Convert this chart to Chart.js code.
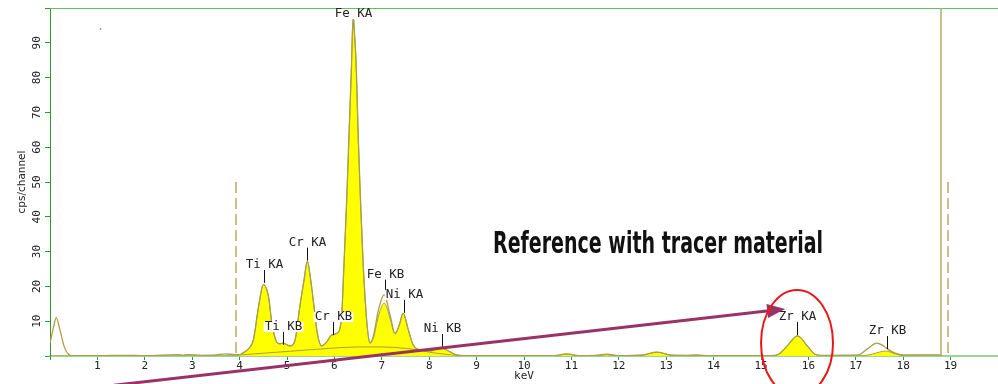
<!DOCTYPE html>
<html>
<head>
<meta charset="utf-8">
<script src="https://cdn.jsdelivr.net/npm/chart.js@4/dist/chart.umd.min.js"></script>
<style>
  html, body { margin: 0; padding: 0; background: #ffffff; }
  #wrap { width: 998px; height: 384px; }
</style>
</head>
<body>
<div id="wrap"><canvas id="spectrum"></canvas></div>
<script>
// energies (keV) and counts
var energyKeV = [
  0.00, 0.07, 0.13, 0.21, 0.30, 0.39, 0.45, 1.00, 1.60, 2.00,
  2.70, 2.80, 2.90, 3.20, 3.50, 3.70, 3.90, 4.00, 4.07, 4.18,
  4.29, 4.40, 4.50, 4.61, 4.68, 4.78, 4.85, 4.92, 4.99, 5.06,
  5.17, 5.27, 5.36, 5.43, 5.50, 5.57, 5.64, 5.73, 5.84, 5.94,
  6.05, 6.15, 6.20, 6.26, 6.31, 6.36, 6.38, 6.40, 6.42, 6.46,
  6.50, 6.55, 6.61, 6.68, 6.75, 6.82, 6.93, 7.05, 7.17, 7.28,
  7.37, 7.45, 7.56, 7.66, 7.77, 7.90, 8.05, 8.23, 8.40, 8.58,
  8.80, 10.60, 10.90, 11.20, 11.50, 11.74, 12.00, 12.50, 12.80, 13.10,
  13.40, 13.64, 13.90, 15.20, 15.37, 15.54, 15.77, 15.99, 16.14, 16.30,
  17.05, 17.26, 17.44, 17.55, 17.65, 17.83, 18.00, 18.50, 18.80
];
// measured spectrum (outline)
var spectrumCps = [
  3.7, 8.0, 11.0, 7.5, 2.7, 0.5, 0.1, 0.1, 0.2, 0.1,
  0.4, 0.2, 0.4, 0.2, 0.3, 0.6, 0.4, 0.4, 0.9, 2.0,
  4.6, 14.2, 20.5, 17.1, 9.5, 4.1, 3.5, 3.7, 3.3, 2.9,
  4.6, 14.2, 21.9, 27.2, 21.9, 14.2, 6.5, 2.9, 4.1, 6.0,
  6.5, 11.0, 25.7, 45.0, 64.2, 83.4, 93.0, 97.3, 93.5, 83.4,
  64.2, 45.0, 25.7, 10.4, 3.7, 5.6, 13.3, 17.6, 12.0, 6.5,
  9.0, 12.3, 7.5, 3.2, 1.9, 1.5, 1.5, 2.5, 1.5, 0.3,
  0.1, 0.1, 0.6, 0.1, 0.2, 0.5, 0.1, 0.3, 1.1, 0.3,
  0.2, 0.3, 0.1, 0.1, 0.5, 2.7, 5.8, 2.7, 0.5, 0.2,
  0.3, 2.2, 3.7, 3.2, 2.2, 0.8, 0.3, 0.3, 0.3
];
// fitted peaks (yellow fill)
var fitCps = [
  0, 0, 0, 0, 0, 0, 0, 0, 0, 0,
  0, 0, 0, 0, 0, 0, 0, 0.3, 0.9, 2.0,
  4.6, 14.2, 20.5, 17.1, 9.5, 4.1, 3.5, 3.7, 3.3, 2.9,
  4.6, 14.2, 21.9, 27.2, 21.9, 14.2, 6.5, 2.9, 4.1, 6.0,
  6.5, 11.0, 25.7, 45.0, 64.2, 83.4, 93.0, 97.3, 93.5, 83.4,
  64.2, 45.0, 25.7, 10.4, 3.7, 5.0, 11.5, 15.2, 11.0, 6.3,
  9.0, 12.3, 7.5, 3.2, 1.9, 1.5, 1.5, 2.5, 1.5, 0.3,
  0, 0, 0.5, 0, 0, 0.4, 0, 0.2, 1.1, 0.2,
  0, 0.2, 0, 0, 0.5, 2.7, 5.8, 2.7, 0.5, 0,
  0, 0.3, 0.9, 1.3, 1.4, 0.6, 0.1, 0, 0
];
// background under the main peaks
var bgKeV = [4.0, 4.5, 5.0, 5.5, 6.0, 6.5, 7.0, 7.5, 7.8, 8.1, 8.4, 8.7];
var bgCps = [0.3, 0.8, 1.3, 1.8, 2.3, 2.6, 2.6, 2.2, 1.6, 0.9, 0.4, 0.0];

var peakNames = ['Ti KA', 'Ti KB', 'Cr KA', 'Cr KB', 'Fe KA', 'Fe KB', 'Ni KA', 'Ni KB', 'Zr KA', 'Zr KB'];
var peakKeV = [4.51, 4.92, 5.42, 5.97, 6.40, 7.07, 7.47, 8.27, 15.76, 17.66];
var peakTopCps = [21.0, 3.2, 27.4, 6.0, 97.3, 18.2, 12.4, 2.6, 6.0, 2.0];

var yTickValues = [10, 20, 30, 40, 50, 60, 70, 80, 90];
var roiKeV = [3.92, 18.95];
var roiTopCps = 50;
var markerKeV = 18.8;

var colors = {
  fill: '#ffff00',
  outline: '#a9a047',
  axisGreen: '#2c9c2c',
  xAxis: '#9fd29f',
  topLine: '#62c262',
  dashed: '#c9be84',
  marker: '#b2aa6a',
  arrow: '#993366',
  circle: '#e81818',
  text: '#222'
};
var monoFont = "'DejaVu Sans Mono', monospace";

function points(xs, ys) {
  return xs.map(function(x, i) { return { x: x, y: ys[i] }; });
}

var overlay = {
  id: 'overlay',
  afterDatasetsDraw: function(chart) {
    var ctx = chart.ctx;
    var xs = chart.scales.x, ys = chart.scales.y;
    var area = chart.chartArea;
    ctx.save();

    // top border
    ctx.strokeStyle = colors.topLine;
    ctx.lineWidth = 1;
    ctx.beginPath();
    ctx.moveTo(area.left, area.top + 0.5);
    ctx.lineTo(area.right, area.top + 0.5);
    ctx.stroke();

    // ROI dashed lines
    ctx.strokeStyle = colors.dashed;
    ctx.lineWidth = 2;
    ctx.setLineDash([11, 5]);
    roiKeV.forEach(function(e) {
      var px = Math.round(xs.getPixelForValue(e));
      ctx.beginPath();
      ctx.moveTo(px, ys.getPixelForValue(roiTopCps));
      ctx.lineTo(px, ys.getPixelForValue(0));
      ctx.stroke();
    });
    ctx.setLineDash([]);

    // marker line
    ctx.strokeStyle = colors.marker;
    ctx.lineWidth = 1.5;
    var mx = Math.round(xs.getPixelForValue(markerKeV));
    ctx.beginPath();
    ctx.moveTo(mx, area.top);
    ctx.lineTo(mx, area.bottom);
    ctx.stroke();

    // stray dot
    ctx.fillStyle = '#777';
    ctx.fillRect(xs.getPixelForValue(1.05), ys.getPixelForValue(94.2), 1.5, 1.5);

    // y tick labels (rotated)
    ctx.fillStyle = colors.text;
    ctx.font = '11px ' + monoFont;
    ctx.textAlign = 'center';
    ctx.textBaseline = 'middle';
    yTickValues.forEach(function(v) {
      ctx.save();
      ctx.translate(37, ys.getPixelForValue(v));
      ctx.rotate(-Math.PI / 2);
      ctx.fillText(String(v), 0, 0);
      ctx.restore();
    });

    // axis titles
    ctx.font = "10.5px 'DejaVu Sans', sans-serif";
    ctx.save();
    ctx.translate(22, 182);
    ctx.rotate(-Math.PI / 2);
    ctx.fillText('cps/channel', 0, 0);
    ctx.restore();
    ctx.font = '11px ' + monoFont;
    ctx.fillText('keV', (area.left + area.right) / 2, 376);

    // peak labels
    ctx.font = '12.5px ' + monoFont;
    peakNames.forEach(function(name, i) {
      var px = Math.round(xs.getPixelForValue(peakKeV[i])) + 0.5;
      var py = ys.getPixelForValue(peakTopCps[i]);
      var ly = py - 18;
      var hasTick = true;
      if (ly < area.top + 6) { ly = area.top + 6; hasTick = false; }
      var w = ctx.measureText(name).width;
      ctx.fillStyle = '#ffffff';
      ctx.fillRect(px - w / 2 - 1, ly - 5, w + 2, 10);
      ctx.fillStyle = colors.text;
      ctx.fillText(name, px, ly);
      if (hasTick) {
        ctx.strokeStyle = '#111';
        ctx.lineWidth = 1;
        ctx.beginPath();
        ctx.moveTo(px, ly + 5);
        ctx.lineTo(px, py);
        ctx.stroke();
      }
    });

    // annotation text
    ctx.fillStyle = '#111';
    ctx.textAlign = 'left';
    ctx.textBaseline = 'alphabetic';
    ctx.font = "bold 31px 'DejaVu Sans Condensed', 'DejaVu Sans', sans-serif";
    ctx.fillText('Reference with tracer material', 493, 253, 330);

    // arrow
    var ax0 = xs.getPixelForValue(1.35), ay0 = ys.getPixelForValue(-8.4);
    var ax1 = xs.getPixelForValue(15.51), ay1 = ys.getPixelForValue(13.5);
    var ang = Math.atan2(ay1 - ay0, ax1 - ax0);
    ctx.strokeStyle = colors.arrow;
    ctx.fillStyle = colors.arrow;
    ctx.lineWidth = 3;
    ctx.beginPath();
    ctx.moveTo(ax0, ay0);
    ctx.lineTo(ax1 - 14 * Math.cos(ang), ay1 - 14 * Math.sin(ang));
    ctx.stroke();
    ctx.beginPath();
    ctx.moveTo(ax1, ay1);
    ctx.lineTo(ax1 - 18 * Math.cos(ang) + 7 * Math.sin(ang), ay1 - 18 * Math.sin(ang) - 7 * Math.cos(ang));
    ctx.lineTo(ax1 - 18 * Math.cos(ang) - 7 * Math.sin(ang), ay1 - 18 * Math.sin(ang) + 7 * Math.cos(ang));
    ctx.closePath();
    ctx.fill();

    // circle round Zr KA
    ctx.strokeStyle = colors.circle;
    ctx.lineWidth = 2;
    ctx.beginPath();
    ctx.ellipse(xs.getPixelForValue(15.76), ys.getPixelForValue(3.75), 36, 53, 0, 0, Math.PI * 2);
    ctx.stroke();

    ctx.restore();
  }
};

new Chart(document.getElementById('spectrum').getContext('2d'), {
  type: 'line',
  data: {
    datasets: [{
      label: 'Spectrum',
      data: points(energyKeV, spectrumCps),
      borderColor: colors.outline,
      borderWidth: 1.3,
      fill: false,
      pointRadius: 0,
      cubicInterpolationMode: 'monotone',
      order: 1
    }, {
      label: 'Background',
      data: points(bgKeV, bgCps),
      borderColor: colors.outline,
      borderWidth: 1,
      fill: false,
      pointRadius: 0,
      cubicInterpolationMode: 'monotone',
      order: 2
    }, {
      label: 'Fit',
      data: points(energyKeV, fitCps),
      borderColor: colors.outline,
      borderWidth: 1,
      backgroundColor: colors.fill,
      fill: 'origin',
      pointRadius: 0,
      cubicInterpolationMode: 'monotone',
      order: 3
    }]
  },
  options: {
    responsive: true,
    maintainAspectRatio: false,
    animation: false,
    layout: { padding: { top: 8, right: 0, left: 0, bottom: 0 } },
    plugins: {
      legend: { display: false },
      tooltip: { enabled: false }
    },
    scales: {
      x: {
        type: 'linear',
        min: 0,
        max: 20,
        afterFit: function(s) { s.height = 28; },
        border: { color: colors.xAxis, width: 2 },
        grid: { drawOnChartArea: false, drawTicks: true, tickLength: 4, color: colors.axisGreen },
        ticks: {
          stepSize: 1,
          autoSkip: false,
          maxRotation: 0,
          padding: 0,
          color: colors.text,
          font: { family: monoFont, size: 11 },
          callback: function(v) { return (v >= 1 && v <= 19) ? String(v) : ''; }
        }
      },
      y: {
        min: 0,
        max: 100,
        afterFit: function(s) { s.width = 50; },
        border: { color: colors.axisGreen, width: 1 },
        grid: { drawOnChartArea: false, drawTicks: true, tickLength: 5, color: colors.axisGreen },
        ticks: { stepSize: 10, display: false }
      }
    }
  },
  plugins: [overlay]
});
</script>
</body>
</html>
